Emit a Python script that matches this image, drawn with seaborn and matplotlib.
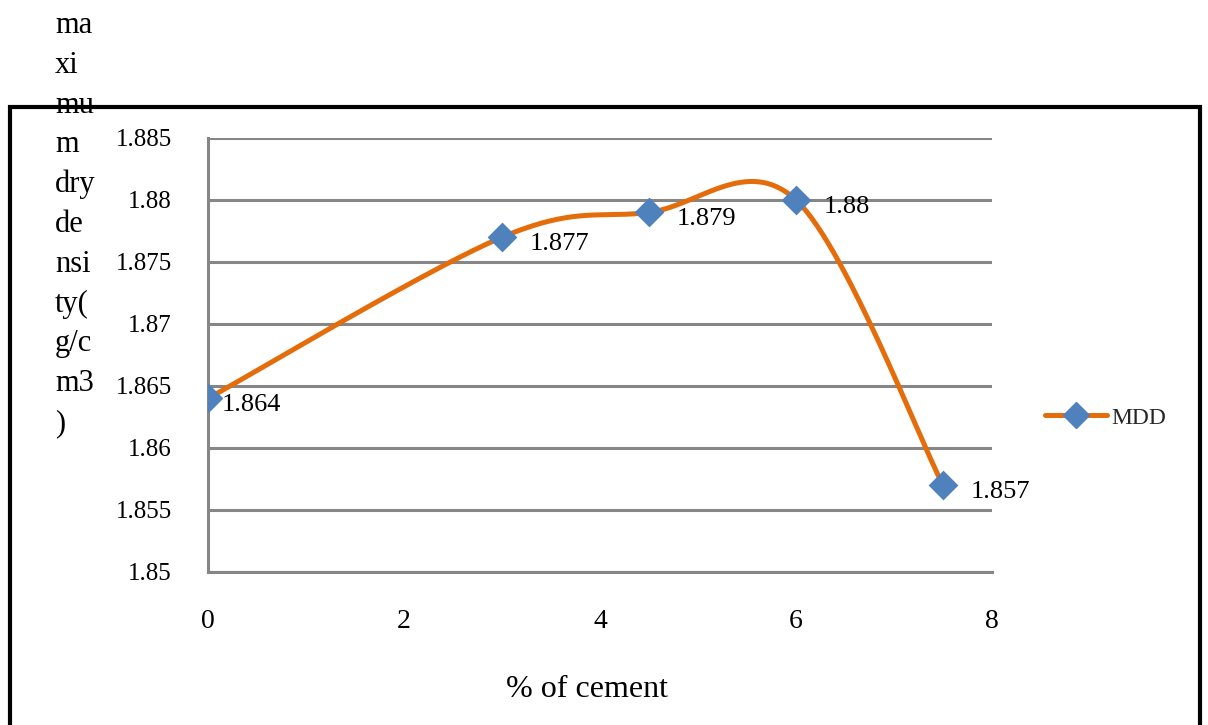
import numpy as np
import matplotlib
matplotlib.use("Agg")
import matplotlib.pyplot as plt
import seaborn as sns
from matplotlib.lines import Line2D
from matplotlib.patches import Rectangle

# Data: maximum dry density against cement content
cement_pct = [0, 3, 4.5, 6, 7.5]
mdd = [1.864, 1.877, 1.879, 1.88, 1.857]
series_name = "MDD"
y_ticks = [1.85, 1.855, 1.86, 1.865, 1.87, 1.875, 1.88, 1.885]
x_ticks = [0, 2, 4, 6, 8]
x_title = "% of cement"
y_title_lines = ["ma", "xi", "mu", "m", "dry", "de", "nsi", "ty(", "g/c", "m3", ")"]

LINE_C = "#E46C0A"
MARK_C = "#4F81BD"
GRID_C = "#868686"

sns.set_theme(style="white")
plt.rcParams["font.family"] = ["Liberation Serif", "DejaVu Serif"]


def smooth_curve(xs, ys, n=60):
    """Cubic Bezier smoothing through every point (Catmull-Rom tangents)."""
    p = np.column_stack([xs, ys]).astype(float)
    ext = np.vstack([p[0], p, p[-1]])
    out = []
    t = np.linspace(0, 1, n)[:, None]
    for i in range(len(p) - 1):
        p0, p1 = ext[i + 1], ext[i + 2]
        c1 = p0 + (ext[i + 2] - ext[i]) / 6.0
        c2 = p1 - (ext[i + 3] - ext[i + 1]) / 6.0
        seg = ((1 - t) ** 3) * p0 + 3 * ((1 - t) ** 2) * t * c1 \
            + 3 * (1 - t) * t ** 2 * c2 + t ** 3 * p1
        out.append(seg if i == 0 else seg[1:])
    pts = np.vstack(out)
    return pts[:, 0], pts[:, 1]


W, H = 1208, 725
fig = plt.figure(figsize=(W / 100, H / 100), dpi=100)
ax = fig.add_axes([208 / W, 1 - 572 / H, (992 - 208) / W, (572 - 138) / H])

sx, sy = smooth_curve(cement_pct, mdd)
sns.lineplot(x=sx, y=sy, ax=ax, color=LINE_C, linewidth=3.6, sort=False,
             zorder=3, legend=False)
sns.scatterplot(x=cement_pct, y=mdd, ax=ax, marker="D", s=230, color=MARK_C,
                edgecolor=MARK_C, linewidth=0, zorder=4, legend=False)

# Value labels sit to the right of each marker
for i, (xv, yv) in enumerate(zip(cement_pct, mdd)):
    dx = 10 if i == 0 else 20
    ax.annotate(f"{yv:g}", (xv, yv), xytext=(dx, -5), textcoords="offset points",
                ha="left", va="center", fontsize=19, color="black", zorder=5)

ax.set_xlim(0, 8)
ax.set_ylim(1.85, 1.885)
ax.set_xticks(x_ticks)
ax.set_xticklabels([f"{v:g}" for v in x_ticks])
ax.set_yticks(y_ticks)
ax.set_yticklabels([f"{v:g}" for v in y_ticks])

ax.grid(axis="y", color=GRID_C, linewidth=2.2)
ax.grid(axis="x", visible=False)
ax.set_axisbelow(True)
for side in ("top", "right"):
    ax.spines[side].set_visible(False)
for side in ("left", "bottom"):
    ax.spines[side].set_color(GRID_C)
    ax.spines[side].set_linewidth(2.2)
ax.tick_params(axis="both", which="major", direction="out", length=6, width=2.2,
               color=GRID_C, labelcolor="black")
ax.tick_params(axis="y", pad=20, labelsize=18)
ax.tick_params(axis="x", pad=21, labelsize=20)

ax.set_xlabel(x_title, fontsize=23, color="black", va="center")
ax.xaxis.set_label_coords(0.484, -0.27)
ax.set_ylabel("")

# Wrapped vertical axis title
for i, part in enumerate(y_title_lines):
    fig.text(55 / W, 1 - (33 + 39.8 * i) / H, part, fontsize=22,
             ha="left", va="baseline", color="black")

# Legend
handle = Line2D([], [], color=LINE_C, linewidth=3.6, marker="D",
                markersize=13, markerfacecolor=MARK_C, markeredgecolor=MARK_C)
fig.legend([handle], [series_name], loc="center left",
           bbox_to_anchor=(1036 / W, 1 - 418 / H), frameon=False, fontsize=17,
           handlelength=2.6, handletextpad=0.2, borderaxespad=0)

# Outer frame of the chart area
fig.add_artist(Rectangle((9.5 / W, -0.1), (1200 - 9.5) / W, (H - 107) / H + 0.1,
                         transform=fig.transFigure, fill=False,
                         edgecolor="black", linewidth=3, clip_on=False))

fig.savefig("out.png", dpi=100)
